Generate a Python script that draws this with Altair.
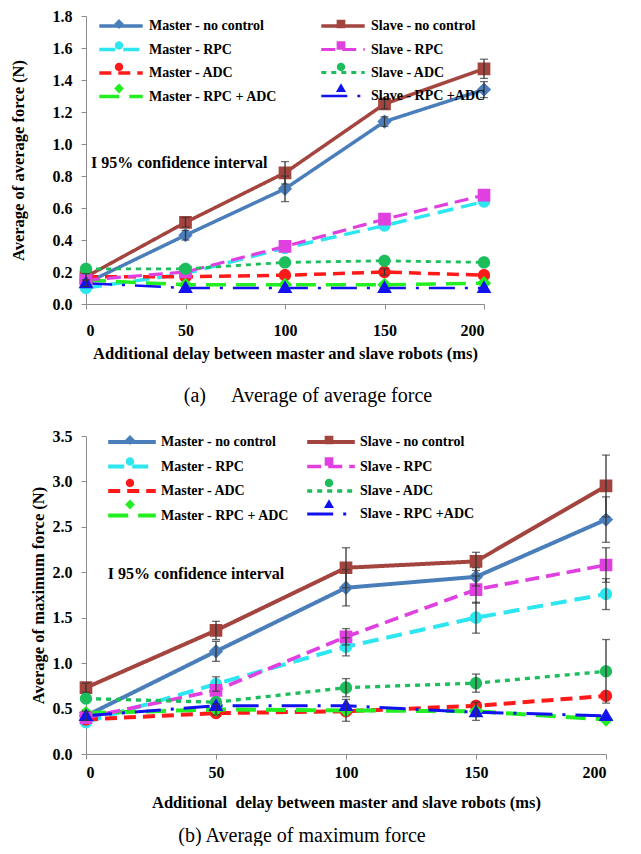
import altair as alt
import pandas as pd

DELAY = [0, 50, 100, 150, 200]
SERIES = ["Master - no control", "Slave - no control", "Master - RPC", "Slave - RPC",
          "Master - ADC", "Slave - ADC", "Master - RPC + ADC", "Slave - RPC +ADC"]
COLORS = ["#4A7EBB", "#A4443F", "#2DE6F0", "#E040E0", "#FF1A1A", "#1CBE5C", "#22EE22", "#1212F0"]
DASHES = [[1, 0], [1, 0], [16, 8], [14, 7], [12, 7], [5, 5], [20, 10], [26, 10, 3, 10]]
MARKERS = [
    "M0,-0.7L0.7,0L0,0.7L-0.7,0Z",
    "M-0.62,-0.62L0.62,-0.62L0.62,0.62L-0.62,0.62Z",
    "M-0.6,0A0.6,0.6 0 1,0 0.6,0A0.6,0.6 0 1,0 -0.6,0Z",
    "M-0.62,-0.62L0.62,-0.62L0.62,0.62L-0.62,0.62Z",
    "M-0.6,0A0.6,0.6 0 1,0 0.6,0A0.6,0.6 0 1,0 -0.6,0Z",
    "M-0.6,0A0.6,0.6 0 1,0 0.6,0A0.6,0.6 0 1,0 -0.6,0Z",
    "M0,-0.7L0.7,0L0,0.7L-0.7,0Z",
    "M0,-0.75L0.72,0.5L-0.72,0.5Z",
]

# (a) Average of average force
AVG_VALUES = [
    [0.13, 0.43, 0.72, 1.14, 1.34],
    [0.17, 0.51, 0.82, 1.25, 1.47],
    [0.10, 0.19, 0.35, 0.49, 0.64],
    [0.15, 0.20, 0.36, 0.53, 0.68],
    [0.17, 0.17, 0.18, 0.20, 0.18],
    [0.22, 0.22, 0.26, 0.27, 0.26],
    [0.15, 0.12, 0.12, 0.12, 0.13],
    [0.13, 0.10, 0.10, 0.10, 0.10],
]
AVG_ERRORS = [
    [0.02, 0.03, 0.08, 0.03, 0.05],
    [0.02, 0.03, 0.07, 0.03, 0.06],
    [0.0, 0.0, 0.0, 0.0, 0.0],
    [0.0, 0.0, 0.0, 0.0, 0.0],
    [0.0, 0.0, 0.0, 0.02, 0.0],
    [0.0, 0.0, 0.0, 0.0, 0.0],
    [0.0, 0.0, 0.0, 0.0, 0.0],
    [0.0, 0.0, 0.0, 0.0, 0.0],
]
AVG_WIDTHS = [3.5, 3.5, 3.5, 2.5, 3.5, 4, 3.5, 3.5]
AVG_YTICKS = [0.0, 0.2, 0.4, 0.6, 0.8, 1.0, 1.2, 1.4, 1.6, 1.8]

# (b) Average of maximum force
MAX_VALUES = [
    [0.42, 1.13, 1.83, 1.95, 2.58],
    [0.73, 1.36, 2.05, 2.12, 2.95],
    [0.35, 0.77, 1.18, 1.50, 1.76],
    [0.40, 0.70, 1.29, 1.81, 2.08],
    [0.38, 0.45, 0.47, 0.53, 0.64],
    [0.61, 0.57, 0.73, 0.78, 0.91],
    [0.45, 0.49, 0.48, 0.47, 0.38],
    [0.42, 0.53, 0.53, 0.46, 0.42],
]
MAX_ERRORS = [
    [0.05, 0.11, 0.20, 0.10, 0.25],
    [0.05, 0.10, 0.22, 0.10, 0.34],
    [0.0, 0.08, 0.10, 0.17, 0.17],
    [0.0, 0.0, 0.09, 0.15, 0.19],
    [0.0, 0.0, 0.0, 0.0, 0.0],
    [0.0, 0.0, 0.10, 0.10, 0.35],
    [0.0, 0.06, 0.12, 0.10, 0.0],
    [0.0, 0.0, 0.0, 0.0, 0.0],
]
MAX_WIDTHS = [4, 4, 4, 3, 4, 4.5, 4, 4]
MAX_YTICKS = [0.0, 0.5, 1.0, 1.5, 2.0, 2.5, 3.0, 3.5]

X_TICKS = [0, 50, 100, 150, 200]
X_TITLE_A = "Additional delay between master and slave robots (ms)"
X_TITLE_B = "Additional\u00a0 delay between master and slave robots (ms)"
ANNOTATION = "I 95% confidence interval"
CAPTION_A = "(a)\u00a0\u00a0\u00a0\u00a0\u00a0Average of average force"
CAPTION_B = "(b) Average of maximum force"

SERIF = "Liberation Serif"


def build_frame(values, errors):
    rows = []
    for i, (name, vals, errs) in enumerate(zip(SERIES, values, errors)):
        for d, v, e in zip(DELAY, vals, errs):
            rows.append({"delay": d, "value": v, "err": e, "series": name,
                         "group": "M" if i % 2 == 0 else "S", "lo": v - e, "hi": v + e})
    return pd.DataFrame(rows)


def panel(key, values, errors, widths, yticks, ytitle, xtitle, caption, cap_dx, cap_offset,
          width, height, leg_x, leg_y, col2_dx, lab_off, line_half, ann_x, ann_y,
          y_axis_extra, xtitle_pad, ylab_pad, xlab_pad):
    df = build_frame(values, errors)
    base = alt.Chart(df)
    xaxis = alt.Axis(values=X_TICKS, title=xtitle, format="d", labelOverlap=False,
                     labelPadding=xlab_pad, titlePadding=xtitle_pad)
    yaxis = alt.Axis(values=yticks, title=ytitle, format=".1f", labelOverlap=False,
                     labelPadding=ylab_pad, **y_axis_extra)
    xs = alt.Scale(domain=[0, 200], nice=False)
    ys = alt.Scale(domain=[yticks[0], yticks[-1]], nice=False)

    def X(f):
        return alt.X(f, scale=xs, axis=xaxis)

    def Y(f):
        return alt.Y(f, scale=ys, axis=yaxis)

    line_path = f"M-{line_half},0L{line_half},0"
    # marker shapes carry an invisible left-only stub so legend entries align with the line legend
    shapes = [f"M-{line_half},0L0,0" + m for m in MARKERS]

    layers = []
    for gi, g in enumerate(["M", "S"]):
        idx = list(range(gi, 8, 2))
        dom = [SERIES[i] for i in idx]
        cols = [COLORS[i] for i in idx]
        leg = dict(orient="none", legendX=leg_x + gi * col2_dx, legendY=leg_y,
                   title=None, symbolSize=196, labelOffset=lab_off, rowPadding=7.5,
                   labelFont=SERIF, labelFontWeight="bold", labelFontSize=14,
                   labelColor="black", labelLimit=300)
        lf = f"l{g}{key}"
        pf = f"p{g}{key}"
        sub = base.transform_filter(f"datum.group == '{g}'").transform_calculate(
            **{lf: "datum.series", pf: "datum.series"})
        line_leg = alt.Legend(symbolType=line_path, symbolStrokeWidth=3.5, **leg)
        pt_leg = alt.Legend(symbolStrokeWidth=0, labelOpacity=0, **leg)
        lines = sub.mark_line().encode(
            x=X("delay:Q"), y=Y("value:Q"),
            color=alt.Color(f"{lf}:N", scale=alt.Scale(domain=dom, range=cols), legend=line_leg),
            strokeDash=alt.StrokeDash(f"{lf}:N", scale=alt.Scale(domain=dom, range=[DASHES[i] for i in idx]),
                                      legend=line_leg),
            strokeWidth=alt.StrokeWidth(f"{lf}:N", scale=alt.Scale(domain=dom, range=[widths[i] for i in idx]),
                                        legend=None),
        )
        points = sub.mark_point(filled=True, size=420, opacity=1, strokeWidth=0).encode(
            x=X("delay:Q"), y=Y("value:Q"),
            color=alt.Color(f"{pf}:N", scale=alt.Scale(domain=dom, range=cols), legend=pt_leg),
            shape=alt.Shape(f"{pf}:N", scale=alt.Scale(domain=dom, range=[shapes[i] for i in idx]),
                            legend=pt_leg),
        )
        layers.append((lines, points))

    eb = base.transform_filter("datum.err > 0")
    rules = eb.mark_rule(color="#333333", strokeWidth=1.3).encode(
        x=X("delay:Q"), y=Y("lo:Q"), y2="hi:Q")
    caps = eb.transform_fold(["lo", "hi"], as_=["kind", "ev"]).mark_tick(
        orient="horizontal", size=8, thickness=1.3, color="#333333").encode(
        x=X("delay:Q"), y=Y("ev:Q"))
    ann = alt.Chart(pd.DataFrame({"x": [ann_x], "y": [ann_y], "t": [ANNOTATION]})).mark_text(
        align="left", baseline="middle", font=SERIF, fontWeight="bold", fontSize=16, color="black"
    ).encode(x=X("x:Q"), y=Y("y:Q"), text="t:N")

    return alt.layer(layers[0][0], layers[1][0], layers[0][1], layers[1][1], rules, caps, ann).resolve_scale(
        color="independent", shape="independent", strokeDash="independent", strokeWidth="independent"
    ).properties(
        width=width, height=height,
        title=alt.TitleParams(caption, orient="bottom", anchor="middle", frame="group",
                              dx=cap_dx, offset=cap_offset, font=SERIF, fontSize=20,
                              fontWeight="normal", color="black"),
    )


top = panel("a", AVG_VALUES, AVG_ERRORS, AVG_WIDTHS, AVG_YTICKS, "Average of average force (N)",
            X_TITLE_A, CAPTION_A, 23, 24,
            398, 288, 26, 1, 222, 19, 3.1, 2.5, 0.88,
            {"titlePadding": 26}, 7, 9, 13)
bottom = panel("b", MAX_VALUES, MAX_ERRORS, MAX_WIDTHS, MAX_YTICKS, "Average of maximum force (N)",
               X_TITLE_B, CAPTION_B, -44, 15,
               520, 318, 37, -3, 199, 20, 3.4, 8.4, 1.98,
               {"titleX": -40, "minExtent": 78}, 14, 9, 5)

chart = alt.vconcat(top, bottom, spacing=22).resolve_scale(
    color="independent", shape="independent", strokeDash="independent", strokeWidth="independent"
).configure_view(stroke=None).configure_axis(
    grid=False, domainColor="#8c8c8c", tickColor="#8c8c8c", tickSize=5,
    labelFont=SERIF, labelFontWeight="bold", labelFontSize=16, labelColor="black",
    titleFont=SERIF, titleFontWeight="bold", titleFontSize=16.5, titleColor="black",
).properties(padding={"left": 0, "top": 0, "right": 0, "bottom": 0})

chart.save("out.html", embed_options={"renderer": "svg", "actions": False})
